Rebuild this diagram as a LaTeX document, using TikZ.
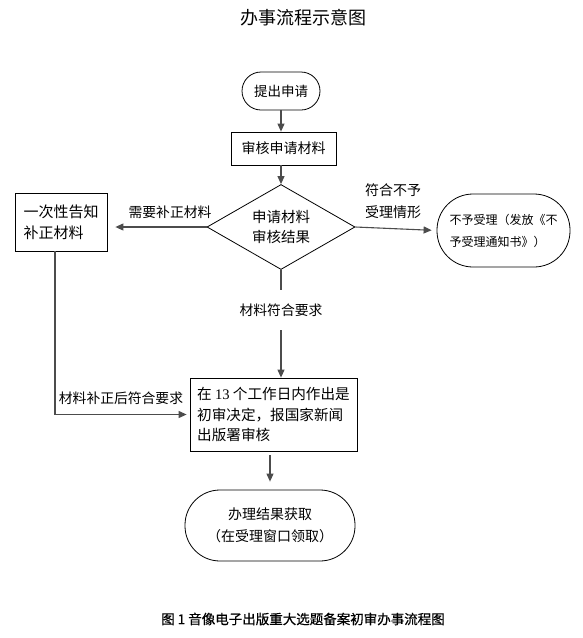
\documentclass[tikz,border=0pt]{standalone}
\usepackage{fontspec}
\usetikzlibrary{arrows.meta,shapes.geometric,calc}
\newfontfamily\cjk{Noto Sans CJK SC}
\newfontfamily\cjkcap[FakeBold=0.6]{Noto Sans CJK SC}
\newfontfamily\latnum{Liberation Serif}
\begin{document}
\begin{tikzpicture}[x=1pt,y=-1pt,
  every node/.style={font=\cjk, inner sep=0pt},
  box/.style={draw=black, line width=0.8pt, fill=white},
  pill/.style={draw=black, line width=0.8pt, rounded corners=#1},
  conn/.style={draw=black!70, line width=1.1pt, -{Triangle[length=8pt,width=7pt]}},
  plain/.style={draw=black!70, line width=1.1pt},
  fs/.style={font=\cjk\fontsize{#1}{#1}\selectfont}
]
\useasboundingbox (0,0) rectangle (582,638);
\fill[white] (0,0) rectangle (582,638);

% title
\node[fs=18] (title) at (303,18) {办事流程示意图};

% nodes
\node[pill=19pt, minimum width=78pt, minimum height=38pt, fs=13.5] (start) at (281,91) {提出申请};
\node[box, minimum width=105pt, minimum height=33pt, fs=14] (rev) at (283.5,148.5) {审核申请材料};
\node[draw=black, line width=0.8pt, diamond, minimum width=148pt, minimum height=85pt, shape aspect=1.74,
      align=left, font=\cjk\fontsize{14.5}{19.5}\selectfont] (dia) at (281,227) {申请材料\\审核结果};
\node[box, minimum width=92pt, minimum height=58pt, align=left,
      font=\cjk\fontsize{15}{21}\selectfont] (left) at (61,222) {一次性告知\\补正材料};
\node[pill=36pt, minimum width=133pt, minimum height=73pt, align=left,
      font=\cjk\fontsize{12}{22}\selectfont] (rej) at (503.5,230.5) {不予受理（发放《不\\予受理通知书》）};
\node[box, minimum width=167pt, minimum height=73pt, align=left,
      font=\cjk\fontsize{14.6}{20.5}\selectfont] (cb) at (273.5,414.5)
      {在 {\latnum 13} 个工作日内作出是\\初审决定，报国家新闻\\出版署审核};
\node[pill=35pt, minimum width=170pt, minimum height=71pt, align=center,
      font=\cjk\fontsize{14}{22}\selectfont] (fin) at (270,525.5) {办理结果获取\\（在受理窗口领取）};

% labels
\node[fs=13.8] (lneed) at (170,212) {需要补正材料};
\node[align=left, font=\cjk\fontsize{14}{22.5}\selectfont] (lrej) at (393,201) {符合不予\\受理情形};
\node[fs=13.8, minimum height=40pt] (lok) at (281,310) {材料符合要求};
\node[fs=13.8] (lfix) at (121,398) {材料补正后符合要求};

% connectors
\draw[conn] (start.south) -- (start.south |- rev.north);
\draw[conn] (dia.north |- rev.south) -- (dia.north);
\draw[conn, shorten >=8pt] (dia.west) -- (left.east |- dia.west);
\draw[conn, shorten >=5pt] (dia.east) -- (rej.west);
\draw[plain] (dia.south) -- (lok.north);
\draw[conn] (lok.south) -- (lok.south |- cb.north);
\draw[conn, shorten >=3pt] ([xshift=-6pt]left.south) |- (cb.west);
\draw[conn, shorten <=4pt, shorten >=8pt] (fin.north |- cb.south) -- (fin.north);

% caption
\node[font=\cjkcap\fontsize{13.5}{13.5}\selectfont] (cap) at (303,619) {图 1 音像电子出版重大选题备案初审办事流程图};
\end{tikzpicture}
\end{document}
